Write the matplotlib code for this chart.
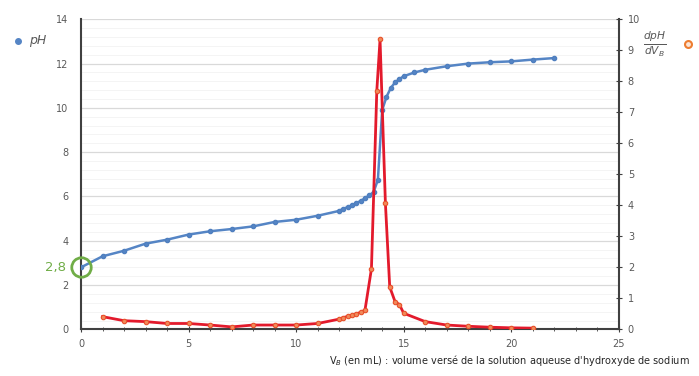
import matplotlib.pyplot as plt
from matplotlib.lines import Line2D
import numpy as np

# pH en fonction du volume versé
v_ph = [0, 1, 2, 3, 4, 5, 6, 7, 8, 9, 10, 11, 12, 12.2, 12.4, 12.6, 12.8, 13, 13.2, 13.4, 13.6, 13.8,
        14, 14.2, 14.4, 14.6, 14.8, 15, 15.5, 16, 17, 18, 19, 20, 21, 22]
ph = [2.8, 3.3, 3.55, 3.87, 4.05, 4.28, 4.43, 4.53, 4.65, 4.85, 4.95, 5.13, 5.35, 5.45, 5.52, 5.6, 5.7,
      5.8, 5.92, 6.05, 6.2, 6.75, 9.9, 10.5, 10.9, 11.15, 11.3, 11.43, 11.6, 11.72, 11.88, 12.0, 12.06,
      12.1, 12.18, 12.25]

# dérivée dpH/dVB
v_d = [1, 2, 3, 4, 5, 6, 7, 8, 9, 10, 11, 12, 12.2, 12.4, 12.6, 12.8, 13, 13.2, 13.5, 13.75, 13.9,
       14.15, 14.35, 14.6, 14.8, 15, 16, 17, 18, 19, 20, 21]
deriv = [0.41, 0.28, 0.25, 0.19, 0.19, 0.14, 0.08, 0.14, 0.14, 0.14, 0.19, 0.33, 0.38, 0.42, 0.45,
         0.5, 0.55, 0.62, 1.95, 7.7, 9.35, 4.06, 1.37, 0.89, 0.8, 0.52, 0.25, 0.14, 0.1, 0.07, 0.05, 0.04]

gris = '#595959'
fig = plt.figure(figsize=(6.99, 3.76), dpi=100)
ax = fig.add_axes([0.1159, 0.124, 0.7694, 0.8247])
ax2 = ax.twinx()

ax.plot(v_ph, ph, '-o', color='#5585c5', lw=1.8, ms=3, mfc='#5585c5', mec='#4f7fbf', zorder=3)
ax2.plot(v_d, deriv, '-o', color='#e31a2c', lw=2, ms=3.2, mfc='#f08a5a', mec='#e8502a', mew=0.8, zorder=3)

ax.set_xlim(0, 25)
ax.set_ylim(0, 14)
ax2.set_ylim(0, 10)
ax.set_xticks(np.arange(0, 26, 5))
ax.set_xticks(np.arange(0, 26, 1), minor=True)
ax.set_yticks(np.arange(0, 15, 2))
ax.set_yticks(np.arange(0, 14.01, 0.4), minor=True)
ax2.set_yticks(np.arange(0, 11, 1))

ax.grid(which='major', axis='y', color='#d9d9d9', lw=0.9)
ax.grid(which='minor', axis='y', color='#f2f2f2', lw=0.6)
ax.set_axisbelow(True)

for a in (ax, ax2):
    for s in a.spines.values():
        s.set_visible(False)
ax.spines['left'].set_visible(True)
ax.spines['bottom'].set_visible(True)
ax2.spines['right'].set_visible(True)
for s in (ax.spines['left'], ax.spines['bottom'], ax2.spines['right']):
    s.set_color('#404040')
    s.set_linewidth(1.5)

ax.tick_params(axis='y', which='both', length=0, labelsize=7, labelcolor=gris, pad=9)
ax.tick_params(axis='x', which='major', length=4, direction='inout', color='#404040', labelsize=7,
               labelcolor=gris, pad=5)
ax.tick_params(axis='x', which='minor', length=3, direction='inout', color='#404040')
ax2.tick_params(axis='y', length=5, direction='inout', color='#404040', labelsize=7, labelcolor=gris, pad=4)

# point initial
ax.plot(0, 2.8, 'o', ms=14, mfc='none', mec='#70ad47', mew=2, clip_on=False, zorder=5)
ax.annotate('2,8', (0, 2.8), xytext=(-11, 0), textcoords='offset points', ha='right', va='center',
            fontsize=9.5, color='#70ad47', annotation_clip=False)

# légendes
fig.add_artist(Line2D([0.026], [0.891], marker='o', ms=4, color='#5585c5', transform=fig.transFigure))
fig.text(0.042, 0.891, 'pH', fontsize=9, style='italic', color=gris, va='center')
fig.text(0.937, 0.883, r'$\frac{dpH}{dV_B}$', fontsize=11, color=gris, ha='center', va='center')
fig.add_artist(Line2D([0.984], [0.883], marker='o', ms=5, mfc='#fbe5d6', mec='#ed7d31', mew=1.5,
                      transform=fig.transFigure))

fig.text(0.987, 0.022, "V$_B$ (en mL) : volume versé de la solution aqueuse d'hydroxyde de sodium",
         fontsize=7, color='#262626', ha='right', va='bottom')

fig.savefig('out.png', dpi=100)
